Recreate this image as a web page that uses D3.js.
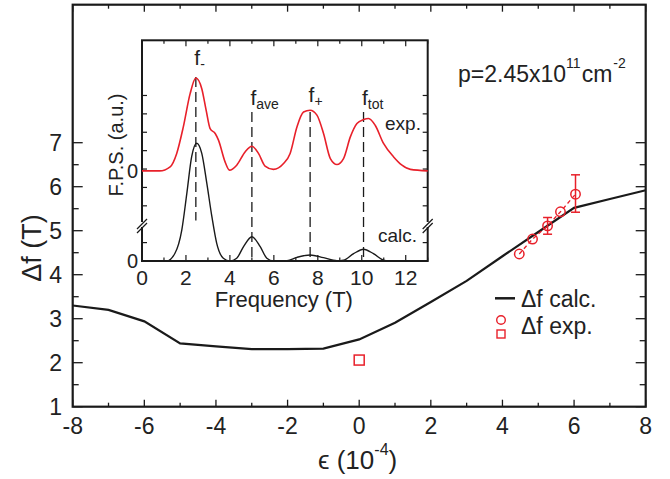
<!DOCTYPE html>
<html><head><meta charset="utf-8">
<script src="https://cdn.jsdelivr.net/npm/d3@7"></script>
<style>
html,body{margin:0;padding:0;background:#fff;}
svg text{font-family:"Liberation Sans",Arial,Helvetica,sans-serif;fill:#222;}
</style></head>
<body><svg id="c" width="670" height="479"></svg>
<script>
// ---------- main chart data ----------
const calcEps = [-8,-7,-6,-5,-4,-3,-2,-1,0,1,2,3,4,5,6,7,8];
const calcDf  = [3.30,3.20,2.94,2.44,2.37,2.31,2.31,2.32,2.53,2.91,3.38,3.86,4.42,4.97,5.52,5.72,5.92];
const expEps  = [4.47,4.84,5.26,5.62,6.04];
const expDf   = [4.47,4.81,5.11,5.43,5.83];
const expErrLo = [null,null,4.92,null,5.42];
const expErrHi = [null,null,5.30,null,6.27];
const sqEps = [0];
const sqDf  = [2.06];
const xTicks = [-8,-6,-4,-2,0,2,4,6,8];
const yTicks = [1,2,3,4,5,6,7];

// ---------- inset data ----------
const expFreq = [0,0.8,1.28,1.58,1.88,2.19,2.45,2.72,2.92,3.10,3.33,3.48,3.78,3.98,4.31,4.69,5.0,5.3,5.6,5.98,6.44,6.74,7.05,7.35,7.65,7.96,8.26,8.57,8.87,9.17,9.48,9.78,10.08,10.31,10.61,10.99,11.45,11.83,12.21,13];
const expAmp  = [0,0,0.22,0.95,2.39,4.2,5.05,4.47,3.29,2.3,2.03,1.67,0.49,0.04,0.31,1.03,1.34,0.95,0.26,0.08,0.4,0.95,2.39,3.2,3.3,3.03,2.03,0.67,0.35,0.67,1.85,2.58,2.79,2.85,2.48,1.49,0.76,0.31,0.08,0];
const calcFreq = [0,1.12,1.5,1.81,2.04,2.26,2.49,2.72,2.95,3.18,3.4,3.7,4.0,4.31,4.62,5.0,5.38,5.68,5.98,6.6,7.05,7.65,8.26,8.87,9.17,9.63,10.08,10.53,10.99,11.3,13];
const calcAmp  = [0,0,0.42,1.68,3.68,5.67,6.4,5.85,4.22,2.41,0.96,0.15,0,0.15,0.78,1.32,0.78,0.15,0,0.02,0.2,0.33,0.18,0.02,0.05,0.4,0.64,0.4,0.05,0,0];
const peakFreq = [2.45,5.0,7.65,10.08];
const peakSub  = ["-","ave","+","tot"];
const dashTop  = [10.0,8.1,8.1,8.1];
const dashBot  = [2.2,0,0,0];
const insetXTicks = [0,2,4,6,8,10,12];
const expOffset = 4.9;

const RED = "#e8202a", BLK = "#1a1a1a";
const svg = d3.select("#c");

// ---------- main scales ----------
const L=72.7, R=645.7, T=4.7, B=406.7;
const x = d3.scaleLinear().domain([-8,8]).range([L,R]);
const y = d3.scaleLinear().domain([1, 1+(B-T)/44]).range([B,T]);

const g = svg.append("g");
// ticks (inward)
const ax = g.append("g").attr("stroke",BLK);
d3.range(-8,9,1).forEach(v=>{
  const len = v%2===0 ? 7 : 4;
  ax.append("line").attr("x1",x(v)).attr("x2",x(v)).attr("y1",B).attr("y2",B-len).attr("stroke-width",1.3);
  ax.append("line").attr("x1",x(v)).attr("x2",x(v)).attr("y1",T).attr("y2",T+len).attr("stroke-width",1.3);
});
d3.range(1,7.01,0.5).forEach(v=>{
  const len = Number.isInteger(v) ? 10 : 6;
  ax.append("line").attr("x1",L).attr("x2",L+len).attr("y1",y(v)).attr("y2",y(v)).attr("stroke-width",1.3);
  ax.append("line").attr("x1",R).attr("x2",R-len).attr("y1",y(v)).attr("y2",y(v)).attr("stroke-width",1.3);
});
g.append("rect").attr("x",L).attr("y",T).attr("width",R-L).attr("height",B-T)
 .attr("fill","none").attr("stroke",BLK).attr("stroke-width",2.2);

// tick labels
g.selectAll(".xl").data(xTicks).join("text").attr("x",d=>x(d)).attr("y",433.5)
 .attr("text-anchor","middle").attr("font-size",23).text(d=>d);
g.selectAll(".yl").data(yTicks).join("text").attr("x",62).attr("y",d=>y(d)+8)
 .attr("text-anchor","end").attr("font-size",23).text(d=>d);

// axis titles
g.append("text").attr("transform","translate(41,248) rotate(-90)").attr("text-anchor","middle")
 .attr("font-size",27).text("Δf (T)");
const xt = g.append("text").attr("x",318).attr("y",469).attr("font-size",26);
xt.append("tspan").text("ϵ (10");
xt.append("tspan").attr("dy",-14).attr("font-size",16).text("-4");
xt.append("tspan").attr("dy",14).text(")");

// p label (single text with super-scripts)
const pt = g.append("text").attr("x",458).attr("y",81.7).attr("font-size",23);
pt.append("tspan").text("p=2.45x10");
pt.append("tspan").attr("dy",-13.5).attr("font-size",14).text("11");
pt.append("tspan").attr("dx",1).attr("dy",13.5).text("cm");
pt.append("tspan").attr("dx",1).attr("dy",-13.5).attr("font-size",14).text("-2");

// calc line
g.append("path").datum(calcEps.map((e,i)=>[e,calcDf[i]]))
 .attr("d",d3.line().x(d=>x(d[0])).y(d=>y(d[1])))
 .attr("fill","none").attr("stroke",BLK).attr("stroke-width",2.2);

// exp dashed connection
g.append("path").datum(expEps.map((e,i)=>[e,expDf[i]]))
 .attr("d",d3.line().x(d=>x(d[0])).y(d=>y(d[1])))
 .attr("fill","none").attr("stroke",RED).attr("stroke-width",1.3).attr("stroke-dasharray","4,3");
// error bars
expEps.forEach((e,i)=>{
  if(expErrLo[i]==null) return;
  g.append("line").attr("x1",x(e)).attr("x2",x(e)).attr("y1",y(expErrLo[i])).attr("y2",y(expErrHi[i])).attr("stroke",RED).attr("stroke-width",1.5);
  [expErrLo[i],expErrHi[i]].forEach(v=>g.append("line").attr("x1",x(e)-4.5).attr("x2",x(e)+4.5).attr("y1",y(v)).attr("y2",y(v)).attr("stroke",RED).attr("stroke-width",1.5));
});
g.selectAll(".ec").data(expEps).join("circle").attr("cx",d=>x(d)).attr("cy",(d,i)=>y(expDf[i]))
 .attr("r",4.7).attr("fill","none").attr("stroke",RED).attr("stroke-width",1.5);
g.selectAll(".sq").data(sqEps).join("rect").attr("x",d=>x(d)-5).attr("y",(d,i)=>y(sqDf[i])-5)
 .attr("width",10).attr("height",10).attr("fill","none").attr("stroke",RED).attr("stroke-width",1.5);

// legend
g.append("line").attr("x1",495).attr("x2",515).attr("y1",298.3).attr("y2",298.3).attr("stroke",BLK).attr("stroke-width",2.5);
g.append("text").attr("x",521).attr("y",306.7).attr("font-size",23).text("Δf calc.");
g.append("circle").attr("cx",501).attr("cy",320).attr("r",4.3).attr("fill","none").attr("stroke",RED).attr("stroke-width",1.4);
g.append("rect").attr("x",497).attr("y",330).attr("width",8).attr("height",8).attr("fill","none").attr("stroke",RED).attr("stroke-width",1.4);
g.append("text").attr("x",521).attr("y",334).attr("font-size",23).text("Δf exp.");

// ---------- inset ----------
const iL=142, iR=427.7, iT=40.3, iB=261;
const xi = d3.scaleLinear().domain([0,13]).range([iL,iR]);
const yi = d3.scaleLinear().domain([0,12]).range([iB,iT]);
const gi = svg.append("g");
gi.append("rect").attr("x",iL).attr("y",iT).attr("width",iR-iL).attr("height",iB-iT).attr("fill","#fff");
const ia = gi.append("g").attr("stroke",BLK).attr("stroke-width",1.2);
d3.range(0,14,1).forEach(v=>{
  const len = v%2===0 ? 6 : 3.5;
  ia.append("line").attr("x1",xi(v)).attr("x2",xi(v)).attr("y1",iB).attr("y2",iB-len);
  ia.append("line").attr("x1",xi(v)).attr("x2",xi(v)).attr("y1",iT).attr("y2",iT+len);
});
[1,3,4,5,6,7,8,9].forEach(v=>{
  ia.append("line").attr("x1",iL).attr("x2",iL+5).attr("y1",yi(v)).attr("y2",yi(v));
  ia.append("line").attr("x1",iR).attr("x2",iR-5).attr("y1",yi(v)).attr("y2",yi(v));
});
gi.append("rect").attr("x",iL).attr("y",iT).attr("width",iR-iL).attr("height",iB-iT)
 .attr("fill","none").attr("stroke",BLK).attr("stroke-width",2);

// break marks
[iL,iR].forEach(bx=>{
  gi.append("rect").attr("x",bx-3).attr("y",222).attr("width",6).attr("height",5).attr("fill","#fff");
  gi.append("line").attr("x1",bx-5).attr("y1",229).attr("x2",bx+5).attr("y2",219).attr("stroke",BLK).attr("stroke-width",1.2);
  gi.append("line").attr("x1",bx-5).attr("y1",233).attr("x2",bx+5).attr("y2",223).attr("stroke",BLK).attr("stroke-width",1.2);
});

// dashed peak lines
peakFreq.forEach((f,i)=>{
  gi.append("line").attr("x1",xi(f)).attr("x2",xi(f)).attr("y1",yi(dashTop[i])).attr("y2",yi(dashBot[i]))
   .attr("stroke",BLK).attr("stroke-width",1.3).attr("stroke-dasharray","10,5");
});

// curves
gi.append("path").datum(expFreq.map((f,i)=>[f,expAmp[i]+expOffset]))
 .attr("d",d3.line().curve(d3.curveMonotoneX).x(d=>xi(d[0])).y(d=>yi(d[1])))
 .attr("fill","none").attr("stroke",RED).attr("stroke-width",1.6);
gi.append("path").datum(calcFreq.map((f,i)=>[f,calcAmp[i]]))
 .attr("d",d3.line().curve(d3.curveMonotoneX).x(d=>xi(d[0])).y(d=>yi(d[1])))
 .attr("fill","none").attr("stroke",BLK).attr("stroke-width",1.4);

// peak labels
const labY = [10.66,8.48,8.66,8.48];
peakFreq.forEach((f,i)=>{
  const t = gi.append("text").attr("x",xi(f)-1.5).attr("y",yi(labY[i])).attr("font-size",21);
  t.append("tspan").text("f");
  t.append("tspan").attr("dy",4).attr("font-size",14).text(peakSub[i]);
});
gi.append("text").attr("x",385).attr("y",130).attr("font-size",19).text("exp.");
gi.append("text").attr("x",378).attr("y",241.7).attr("font-size",19).text("calc.");

// inset axis labels
gi.selectAll(".ixl").data(insetXTicks).join("text").attr("x",d=>xi(d)).attr("y",285)
 .attr("text-anchor","middle").attr("font-size",21).text(d=>d);
gi.append("text").attr("x",138).attr("y",yi(expOffset)+7).attr("text-anchor","end").attr("font-size",20).text("0");
gi.append("text").attr("x",138).attr("y",yi(0)+7).attr("text-anchor","end").attr("font-size",20).text("0");
gi.append("text").attr("x",(iL+iR)/2-1).attr("y",307).attr("text-anchor","middle").attr("font-size",22).text("Frequency (T)");
gi.append("text").attr("transform","translate(123,145) rotate(-90)").attr("text-anchor","middle")
 .attr("font-size",20).text("F.P.S. (a.u.)");
</script></body></html>
